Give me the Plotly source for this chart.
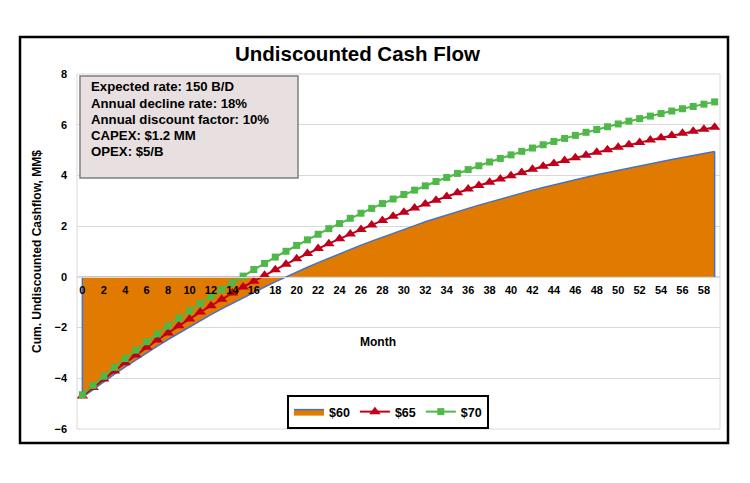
import plotly.graph_objects as go

months = list(range(60))
cf_60 = [-4.75, -4.44, -4.14, -3.84, -3.55, -3.27, -3.00, -2.73, -2.47, -2.22,
         -1.97, -1.73, -1.49, -1.26, -1.04, -0.82, -0.61, -0.40, -0.20, 0.00,
         0.19, 0.38, 0.56, 0.74, 0.92, 1.09, 1.25, 1.41, 1.57, 1.73,
         1.88, 2.02, 2.17, 2.31, 2.44, 2.57, 2.70, 2.83, 2.95, 3.07,
         3.19, 3.30, 3.42, 3.52, 3.63, 3.73, 3.83, 3.93, 4.03, 4.12,
         4.21, 4.30, 4.39, 4.47, 4.55, 4.63, 4.71, 4.79, 4.86, 4.94]
cf_65 = [-4.70, -4.36, -4.03, -3.71, -3.39, -3.08, -2.78, -2.49, -2.21, -1.93,
         -1.66, -1.39, -1.14, -0.88, -0.64, -0.40, -0.17, 0.06, 0.28, 0.50,
         0.71, 0.92, 1.12, 1.31, 1.50, 1.69, 1.87, 2.05, 2.22, 2.39,
         2.55, 2.72, 2.87, 3.02, 3.17, 3.32, 3.46, 3.60, 3.73, 3.86,
         3.99, 4.12, 4.24, 4.36, 4.47, 4.59, 4.70, 4.80, 4.91, 5.01,
         5.11, 5.21, 5.30, 5.40, 5.49, 5.57, 5.66, 5.74, 5.82, 5.90]
cf_70 = [-4.65, -4.28, -3.92, -3.57, -3.22, -2.89, -2.56, -2.25, -1.94, -1.63,
         -1.34, -1.05, -0.77, -0.50, -0.23, 0.03, 0.29, 0.53, 0.78, 1.01,
         1.24, 1.46, 1.68, 1.90, 2.10, 2.31, 2.51, 2.70, 2.89, 3.07,
         3.25, 3.42, 3.59, 3.76, 3.92, 4.08, 4.23, 4.38, 4.53, 4.67,
         4.81, 4.95, 5.08, 5.21, 5.34, 5.46, 5.58, 5.70, 5.81, 5.92,
         6.03, 6.14, 6.24, 6.34, 6.44, 6.54, 6.63, 6.72, 6.81, 6.90]
x_tick_vals = months[::2]
x_tick_text = [str(m) for m in x_tick_vals]
info_lines = ["Expected rate: 150 B/D", "Annual decline rate: 18%",
              "Annual discount factor: 10%", "CAPEX: $1.2 MM", "OPEX: $5/B"]

FONT = "Liberation Sans, Arial, sans-serif"
ORANGE = "#E07A00"
BLUE = "#4472C4"
RED = "#C0001A"
GREEN = "#4EB848"

W, H = 750, 483
L, R, T, B = 77, 30, 74, 54
pw, ph = W - L - R, H - T - B

def px(X):
    return (X - L) / pw

def py(Y):
    return (H - B - Y) / ph

fig = go.Figure()

fig.add_trace(go.Scatter(
    x=months, y=cf_60, name="$60", mode="lines", fill="tozeroy",
    fillcolor=ORANGE, line=dict(color=BLUE, width=1.5)))
fig.add_trace(go.Scatter(
    x=[months[0], months[0], None, months[-1], months[-1]],
    y=[0, cf_60[0], None, 0, cf_60[-1]], mode="lines",
    line=dict(color=BLUE, width=1.5), showlegend=False, hoverinfo="skip"))
fig.add_trace(go.Scatter(
    x=months, y=cf_65, name="$65", mode="lines+markers",
    line=dict(color=RED, width=2),
    marker=dict(symbol="triangle-up", size=10, color=RED)))
fig.add_trace(go.Scatter(
    x=months, y=cf_70, name="$70", mode="lines+markers",
    line=dict(color=GREEN, width=2),
    marker=dict(symbol="square", size=7, color=GREEN)))

shapes = [
    dict(type="rect", xref="paper", yref="paper", x0=0, x1=1, y0=0, y1=1,
         line=dict(color="#D9D9D9", width=1), layer="below"),
    dict(type="rect", xref="paper", yref="paper",
         x0=px(20), x1=px(728), y0=py(443), y1=py(37),
         line=dict(color="black", width=2.5)),
    dict(type="rect", xref="paper", yref="paper",
         x0=px(80), x1=px(298), y0=py(178), y1=py(76),
         fillcolor="#E8E0E0", line=dict(color="#7F7F7F", width=1.5)),
]

annotations = []
for i, line in enumerate(info_lines):
    annotations.append(dict(
        text="<b>" + line + "</b>", xref="paper", yref="paper",
        x=px(89), y=py(87 + 16 * i), xanchor="left", yanchor="middle",
        align="left", showarrow=False,
        font=dict(family=FONT, size=13.2, color="black")))
annotations += [
    dict(text="<b>Month</b>", xref="paper", yref="paper", x=px(378), y=py(342),
         xanchor="center", yanchor="middle", showarrow=False,
         font=dict(family=FONT, size=12, color="black")),
    dict(text="<b>Cum. Undiscounted Cashflow, MM$</b>", xref="paper", yref="paper",
         x=px(37), y=py(252), xanchor="center", yanchor="middle", textangle=-90,
         showarrow=False, font=dict(family=FONT, size=12, color="black")),
    dict(text="<b>Undiscounted Cash Flow</b>", xref="paper", yref="paper",
         x=px(357), y=py(53), xanchor="center", yanchor="middle",
         showarrow=False, font=dict(family=FONT, size=20.5, color="black")),
]

fig.update_layout(
    width=W, height=H, autosize=False,
    margin=dict(l=L, r=R, t=T, b=B, pad=0),
    paper_bgcolor="white", plot_bgcolor="white",
    font=dict(family=FONT, color="black"),
    shapes=shapes, annotations=annotations,
    legend=dict(orientation="h", x=px(388), y=py(412), xanchor="center",
                yanchor="middle", bordercolor="black", borderwidth=2,
                bgcolor="white", font=dict(family=FONT, size=12.5, color="black",
                                           weight="bold"),
                itemwidth=30, tracegroupgap=0),
    xaxis=dict(range=[-0.5, 59.5], tickmode="array", tickvals=x_tick_vals,
               ticktext=x_tick_text, anchor="free", position=py(277),
               showgrid=False, zeroline=False, showline=True,
               linecolor="#D9D9D9", linewidth=1, ticks="",
               ticklabelstandoff=3,
               tickfont=dict(family=FONT, size=11, color="black", weight="bold")),
    yaxis=dict(range=[-6, 8], dtick=2, showgrid=True, gridcolor="#D9D9D9",
               gridwidth=1, zeroline=False, showline=False, ticks="",
               ticklabelstandoff=9,
               tickfont=dict(family=FONT, size=11, color="black", weight="bold")),
)

fig.write_html("out.html")
